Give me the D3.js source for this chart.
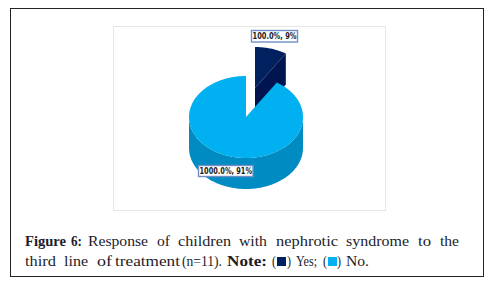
<!DOCTYPE html>
<html>
<head>
<meta charset="utf-8">
<script src="https://cdn.jsdelivr.net/npm/d3@7"></script>
<style>
  html, body { margin: 0; padding: 0; background: #fff; }
  svg { display: block; }
  .label { font-family: "DejaVu Sans", sans-serif; font-size: 8px; font-weight: bold; fill: #1a1a1a; }
  .caption { font-family: "Liberation Serif", serif; font-size: 14px; fill: #1c1c2a; }
</style>
</head>
<body>
<div id="chart"></div>
<script>
/** DATA */
const categories = ["Yes", "No"];
const values = [1, 10];
const labels = ["100.0%, 9%", "1000.0%, 91%"];
const topColors = ["#00205f", "#00b0f0"];
const sideColors = ["#001550", "#008cc2"];

// caption words: text, left edge, right edge, bold
const line1Words = [["Figure", 25, 66, 1], ["6:", 71, 82, 1], ["Response", 88, 148, 0], ["of", 157, 170, 0],
  ["children", 178, 231, 0], ["with", 239, 267, 0], ["nephrotic", 276, 338, 0], ["syndrome", 346, 409, 0],
  ["to", 418, 431, 0], ["the", 440, 459, 0]];
const line2Words = [["third", 25, 56, 0], ["line", 64, 88, 0], ["of", 97, 112, 0], ["treatment", 115, 180, 0],
  ["(n=11).", 182, 222, 0], ["Note:", 227, 267, 1], ["(", 272, 276, 0], [")", 287, 291, 0],
  ["Yes;", 296, 317, 0], ["(", 323, 327, 0], [")", 337, 341, 0], ["No.", 346, 369, 0]];

/** CONSTANTS */
const width = 494, height = 286,
  cx = 246, cy = 117,
  rx = 57, ry = 41,
  depth = 31,
  explode = { x: 9, y: -29 };

const svg = d3.select("#chart").append("svg")
  .attr("width", width)
  .attr("height", height);

// frames
svg.append("rect").attr("x", 10.5).attr("y", 8.5).attr("width", 473).attr("height", 268)
  .attr("fill", "none").attr("stroke", "#222").attr("stroke-width", 1);
svg.append("rect").attr("x", 113.5).attr("y", 26.5).attr("width", 272).attr("height", 184)
  .attr("fill", "none").attr("stroke", "#e6e6e6").attr("stroke-width", 1);

/** PIE */
const arcs = d3.pie().sort(null)(values);

// points on the tilted disc, angle 0 at the top going clockwise
const px = a => rx * Math.sin(a);
const py = a => -ry * Math.cos(a);

const topPath = d => {
  const pts = d3.range(d.startAngle, d.endAngle, 0.02).concat(d.endAngle).map(a => [px(a), py(a)]);
  return d3.line()([[0, 0], ...pts]) + "Z";
};

// front wall of the big slice, only the part of the rim facing us
const rimPath = d => {
  const from = Math.max(d.startAngle, Math.PI / 2), to = Math.min(d.endAngle, Math.PI * 1.5);
  const pts = d3.range(from, to, 0.02).concat(to).map(a => [px(a), py(a)]);
  return d3.line()([...pts, ...pts.slice().reverse().map(p => [p[0], p[1] + depth])]) + "Z";
};

// cut wall of the small slice
const cutPath = d => {
  const e = [px(d.endAngle), py(d.endAngle)];
  return d3.line()([[0, 0], e, [e[0], e[1] + depth], [0, depth]]) + "Z";
};

const small = svg.append("g")
  .attr("transform", `translate(${cx + explode.x},${cy + explode.y})`);
small.append("path").attr("d", cutPath(arcs[0])).attr("fill", sideColors[0]);
small.append("path").attr("d", topPath(arcs[0])).attr("fill", topColors[0]);

const big = svg.append("g")
  .attr("transform", `translate(${cx},${cy})`);
big.append("path").attr("d", rimPath(arcs[1])).attr("fill", sideColors[1]);
big.append("path").attr("d", topPath(arcs[1])).attr("fill", topColors[1]);

/** DATA LABELS */
const labelBoxes = [{ x: 251.5, y: 30.5, w: 46, h: 11.5 }, { x: 198.5, y: 165.5, w: 54.5, h: 11 }];
labels.forEach((t, i) => {
  const b = labelBoxes[i];
  svg.append("rect").attr("x", b.x).attr("y", b.y).attr("width", b.w).attr("height", b.h)
    .attr("fill", "#fff").attr("stroke", "#6f8fc6").attr("stroke-width", 1.4);
  svg.append("text").attr("class", "label")
    .attr("x", b.x + 1).attr("y", b.y + 8.7)
    .attr("textLength", b.w - 2)
    .attr("lengthAdjust", "spacingAndGlyphs")
    .text(t);
});

/** CAPTION */
const drawWords = (words, y) => svg.selectAll(null)
  .data(words)
  .join("text")
  .attr("class", "caption")
  .attr("x", d => d[1])
  .attr("y", y)
  .attr("textLength", d => d[2] - d[1])
  .attr("lengthAdjust", "spacingAndGlyphs")
  .attr("font-weight", d => d[3] ? "bold" : "normal")
  .text(d => d[0]);

drawWords(line1Words, 246);
drawWords(line2Words, 266);

// legend swatches inside the note
categories.forEach((c, i) => {
  svg.append("rect")
    .attr("x", [277, 328][i]).attr("y", 257)
    .attr("width", 9).attr("height", 9)
    .attr("fill", topColors[i]);
});
</script>
</body>
</html>
